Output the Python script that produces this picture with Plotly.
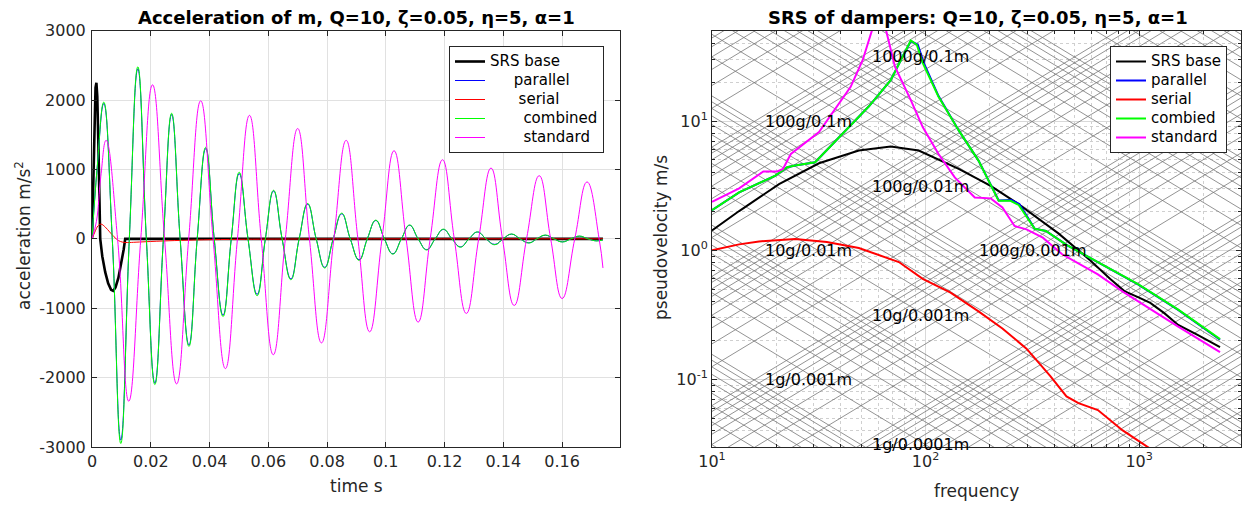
import math
import plotly.graph_objects as go

W, H = 1244, 505
FONT = "DejaVu Sans"
AXC = "#262626"

# ---------------- left panel: acceleration time histories ----------------
t_base = [0, 0.0004, 0.0008, 0.0012, 0.0015, 0.0018, 0.0022, 0.0025, 0.0028, 0.0035, 0.0045,
          0.0055, 0.0065, 0.0072, 0.0080, 0.0090, 0.0100, 0.0108, 0.0113, 0.1739]
a_base = [0, 900, 1700, 2180, 2250, 2050, 1300, 500, 0, -250, -480,
          -640, -735, -750, -700, -560, -350, -150, 0, 0]

t_comb = [0, 0.0018, 0.0040, 0.0069, 0.0098, 0.0127, 0.0156, 0.0185, 0.0214, 0.0243, 0.0271,
          0.0300, 0.0330, 0.0358, 0.0387, 0.0416, 0.0446, 0.0474, 0.0501, 0.0531, 0.0562,
          0.0590, 0.0618, 0.0647, 0.0677, 0.0705, 0.0734, 0.0763, 0.0792, 0.0821, 0.0850,
          0.0879, 0.0909, 0.0937, 0.0966, 0.0995, 0.1024, 0.1053, 0.1081, 0.1110, 0.1139,
          0.1168, 0.1196, 0.1225, 0.1254, 0.1283, 0.1312, 0.1341, 0.1371, 0.1399, 0.1428,
          0.1457, 0.1487, 0.1514, 0.1543, 0.1572, 0.1601, 0.1630, 0.1659, 0.1688, 0.1717, 0.1739]
a_comb = [0, 1050, 1970, 0, -2950, 0, 2480, 0, -2100, 0, 1810,
          0, -1550, 0, 1320, 0, -1120, 0, 960, 0, -820,
          0, 700, 0, -590, 0, 510, 0, -420, 0, 370,
          0, -310, 0, 270, 0, -220, 0, 200, 0, -160,
          0, 140, 0, -120, 0, 100, 0, -85, 0, 70,
          0, -60, 0, 55, 0, -45, 0, 40, 0, -30, -15]
a_par = [0, 1040, 1950, 0, -2900, 0, 2450, 0, -2080, 0, 1790,
         0, -1530, 0, 1300, 0, -1100, 0, 940, 0, -800,
         0, 690, 0, -575, 0, 500, 0, -410, 0, 360,
         0, -300, 0, 265, 0, -215, 0, 195, 0, -155,
         0, 135, 0, -115, 0, 98, 0, -80, 0, 68,
         0, -58, 0, 52, 0, -43, 0, 38, 0, -28, -12]

t_ser = [0, 0.0010, 0.0020, 0.0031, 0.0045, 0.0060, 0.0075, 0.0090, 0.0105, 0.0120, 0.0150,
         0.0200, 0.0280, 0.0380, 0.0500, 0.0700, 0.1000, 0.1739]
a_ser = [0, 100, 185, 212, 170, 100, 30, -25, -48, -53, -48,
         -38, -25, -14, -7, -2, 0, 0]

t_std = [0, 0.0015, 0.0030, 0.0048, 0.0087, 0.0125, 0.0166, 0.0206, 0.0247, 0.0288, 0.0329,
         0.0370, 0.0412, 0.0454, 0.0495, 0.0536, 0.0576, 0.0617, 0.0658, 0.0700, 0.0740,
         0.0781, 0.0823, 0.0865, 0.0905, 0.0945, 0.0987, 0.1028, 0.1069, 0.1110, 0.1151,
         0.1193, 0.1233, 0.1274, 0.1316, 0.1358, 0.1397, 0.1437, 0.1479, 0.1522, 0.1561,
         0.1600, 0.1643, 0.1685, 0.1726, 0.1739]
a_std = [0, 250, 900, 1420, 0, -2340, 0, 2220, 0, -2090, 0,
         1990, 0, -1870, 0, 1780, 0, -1670, 0, 1590, 0,
         -1500, 0, 1420, 0, -1340, 0, 1270, 0, -1200, 0,
         1140, 0, -1075, 0, 1020, 0, -960, 0, 910, 0,
         -860, 0, 820, 0, -420]

time_ticks = [0, 0.02, 0.04, 0.06, 0.08, 0.1, 0.12, 0.14, 0.16]
time_labels = ["0", "0.02", "0.04", "0.06", "0.08", "0.1", "0.12", "0.14", "0.16"]
acc_ticks = [-3000, -2000, -1000, 0, 1000, 2000, 3000]
acc_labels = ["-3000", "-2000", "-1000", "0", "1000", "2000", "3000"]

# ---------------- right panel: SRS (pseudovelocity) ----------------
f_base = [10, 13.4, 20.6, 31.7, 48.7, 68.7, 92.9, 143, 202, 273, 419, 591, 733, 853, 988, 1128,
          1312, 1524, 1888, 2393]
v_base = [1.42, 2.01, 3.25, 4.71, 5.91, 6.35, 5.91, 4.26, 3.15, 2.27, 1.35, 0.834, 0.598, 0.483,
          0.433, 0.391, 0.326, 0.264, 0.22, 0.178]

f_comb = [10, 13.4, 19.8, 22.5, 24.5, 30.4, 54.3, 68.7, 78.1, 85.3, 91, 97.1, 115, 143, 177,
          220, 250, 273, 324, 366, 457, 641, 988, 1524, 2393]
v_comb = [2.04, 2.80, 3.78, 4.39, 4.52, 4.80, 13.0, 20.7, 31.6, 42.0, 38.9, 28.0, 15.4, 8.46, 4.94,
          2.41, 2.41, 2.24, 1.47, 1.41, 1.10, 0.81, 0.546, 0.347, 0.205]
f_par = [10, 13.4, 19.8, 22.5, 24.5, 30.4, 54.3, 68.7, 78.1, 85.3, 92, 98, 115, 143, 177,
         220, 252, 275, 324, 366, 457, 641, 988, 1524, 2393]
v_par = [2.04, 2.80, 3.78, 4.39, 4.52, 4.80, 13.0, 20.7, 31.6, 41.5, 38.9, 28.3, 15.6, 8.46, 4.94,
         2.43, 2.45, 2.28, 1.47, 1.41, 1.10, 0.81, 0.545, 0.345, 0.203]

f_ser = [10, 13.4, 16.6, 24.5, 34.5, 48.7, 75, 97, 131, 177, 229, 297, 384, 457, 520, 641, 838,
         988, 1128, 1250]
v_ser = [1.0, 1.11, 1.17, 1.22, 1.16, 1.04, 0.81, 0.60, 0.469, 0.336, 0.248, 0.173, 0.106, 0.0738,
         0.0655, 0.058, 0.0403, 0.0336, 0.0295, 0.026]

f_std = [10, 13.4, 17.4, 20.2, 21.5, 23.4, 31.7, 38.4, 44.6, 50.8, 55.9, 60.5, 65.4, 71.9, 85.3,
         97, 115, 137, 170, 202, 229, 261, 297, 354, 436, 641, 853, 1524, 2393]
v_std = [2.37, 3.01, 4.07, 4.07, 4.25, 5.56, 8.2, 12.8, 18.4, 29.7, 50, 75, 50, 26.3, 14.5,
         8.98, 5.56, 3.66, 2.56, 2.52, 2.14, 1.54, 1.45, 1.25, 0.93, 0.65, 0.469, 0.256, 0.163]

freq_range = [10, 3000]
pv_range = [0.03, 50]

# tripartite grid values
grid_mult = [1, 2, 3, 4, 5, 6, 7, 8, 9]
acc_decades_g = [0.1, 1, 10, 100, 1000, 10000]
disp_decades_m = [1e-6, 1e-5, 1e-4, 1e-3, 1e-2, 1e-1]
G = 9.81

lab_acc_g = [1000, 100, 100, 10, 100, 10, 1, 1]
lab_disp_m = [0.1, 0.1, 0.01, 0.01, 0.001, 0.001, 0.001, 0.0001]


def lg(name):
    return '<span style="font-size:15px">' + name + "</span>"


NB = "\u00a0"
fig = go.Figure()

# ---------- left traces ----------
fig.add_trace(go.Scatter(x=t_base, y=a_base, mode="lines", name=lg("SRS base"),
                         line=dict(color="black", width=2.6), xaxis="x", yaxis="y", legend="legend"))
fig.add_trace(go.Scatter(x=t_comb, y=a_par, mode="lines", name=lg(NB * 5 + "parallel"),
                         line=dict(color="#0000ff", width=1, shape="spline", smoothing=1.3),
                         xaxis="x", yaxis="y", legend="legend"))
fig.add_trace(go.Scatter(x=t_ser, y=a_ser, mode="lines", name=lg(NB * 6 + "serial"),
                         line=dict(color="#ff0000", width=1, shape="spline"),
                         xaxis="x", yaxis="y", legend="legend"))
fig.add_trace(go.Scatter(x=t_comb, y=a_comb, mode="lines", name=lg(NB * 7 + "combined"),
                         line=dict(color="#00ff00", width=1, shape="spline", smoothing=1.3),
                         xaxis="x", yaxis="y", legend="legend"))
fig.add_trace(go.Scatter(x=t_std, y=a_std, mode="lines", name=lg(NB * 7 + "standard"),
                         line=dict(color="#ff00ff", width=1, shape="spline", smoothing=1.3),
                         xaxis="x", yaxis="y", legend="legend"))

# ---------- right: tripartite grid ----------
gx, gy = [], []
for dec in acc_decades_g:
    for m in grid_mult:
        a = m * dec * G
        gx += [freq_range[0], freq_range[1], None]
        gy += [a / (2 * math.pi * freq_range[0]), a / (2 * math.pi * freq_range[1]), None]
for dec in disp_decades_m:
    for m in grid_mult:
        d = m * dec
        gx += [freq_range[0], freq_range[1], None]
        gy += [2 * math.pi * freq_range[0] * d, 2 * math.pi * freq_range[1] * d, None]
fig.add_trace(go.Scatter(x=gx, y=gy, mode="lines", line=dict(color="#777777", width=0.8),
                         hoverinfo="skip", showlegend=False, xaxis="x2", yaxis="y2"))

for name, fx, vy, col in [("SRS base", f_base, v_base, "black"),
                          ("parallel", f_par, v_par, "#0000ff"),
                          ("serial", f_ser, v_ser, "#ff0000"),
                          ("combied", f_comb, v_comb, "#00ff00"),
                          ("standard", f_std, v_std, "#ff00ff")]:
    fig.add_trace(go.Scatter(x=fx, y=vy, mode="lines", name=lg(name),
                             line=dict(color=col, width=2), xaxis="x2", yaxis="y2",
                             legend="legend2"))

annotations = []
for ag, dm in zip(lab_acc_g, lab_disp_m):
    a = ag * G
    pv = math.sqrt(a * dm)
    f = pv / (2 * math.pi * dm)
    annotations.append(dict(x=math.log10(f), y=math.log10(pv), xref="x2", yref="y2",
                            text=f"{ag}g/{dm}m", showarrow=False, xanchor="left",
                            yanchor="middle", xshift=9,
                            font=dict(family=FONT, size=16, color="black")))


def px(x):
    return x / W


def py(y):
    return 1 - y / H


annotations += [
    dict(x=px(356), y=py(17), xref="paper", yref="paper", showarrow=False,
         text="<b>Acceleration of m, Q=10, \u03b6=0.05, \u03b7=5, \u03b1=1</b>",
         font=dict(family=FONT, size=18, color="black"), xanchor="center", yanchor="middle"),
    dict(x=px(978), y=py(17), xref="paper", yref="paper", showarrow=False,
         text="<b>SRS of dampers: Q=10, \u03b6=0.05, \u03b7=5, \u03b1=1</b>",
         font=dict(family=FONT, size=18, color="black"), xanchor="center", yanchor="middle"),
    dict(x=px(23), y=py(236), xref="paper", yref="paper", showarrow=False, textangle=-90,
         text="acceleration m/s<sup>2</sup>",
         font=dict(family=FONT, size=17, color=AXC), xanchor="center", yanchor="middle"),
    dict(x=px(661), y=py(238), xref="paper", yref="paper", showarrow=False, textangle=-90,
         text="pseudovelocity m/s",
         font=dict(family=FONT, size=17, color=AXC), xanchor="center", yanchor="middle"),
    dict(x=px(356), y=py(486), xref="paper", yref="paper", showarrow=False,
         text="time s", font=dict(family=FONT, size=17, color=AXC),
         xanchor="center", yanchor="middle"),
    dict(x=px(976.5), y=py(491), xref="paper", yref="paper", showarrow=False,
         text="frequency", font=dict(family=FONT, size=17, color=AXC),
         xanchor="center", yanchor="middle"),
]

tickfont = dict(family=FONT, size=16, color=AXC)
common = dict(showline=True, linecolor=AXC, linewidth=1, mirror="ticks", ticks="inside",
              ticklen=5, tickcolor=AXC, tickfont=tickfont, zeroline=False, automargin=False)

y_dom = [py(447), py(30.7)]

fig.update_layout(
    width=W, height=H, template="none",
    paper_bgcolor="white", plot_bgcolor="white",
    margin=dict(l=0, r=0, t=0, b=0),
    font=dict(family=FONT, color=AXC),
    xaxis=dict(domain=[px(92), px(620)], range=[0, 0.1797], tickmode="array",
               tickvals=time_ticks, ticktext=time_labels, showgrid=True, gridcolor="#e1e1e1",
               anchor="y", **common),
    yaxis=dict(domain=y_dom, range=[-3000, 3000], tickmode="array", tickvals=acc_ticks,
               ticktext=acc_labels, showgrid=True, gridcolor="#e1e1e1", anchor="x",
               ticklabelstandoff=2, **common),
    xaxis2=dict(domain=[px(712), px(1241)], type="log",
                range=[math.log10(freq_range[0]), math.log10(freq_range[1])],
                tickmode="array", tickvals=[10, 100, 1000],
                ticktext=["10<sup>1</sup>", "10<sup>2</sup>", "10<sup>3</sup>"],
                showgrid=True, gridcolor="#d9d9d9",
                minor=dict(tickmode="array",
                           tickvals=[20, 30, 40, 50, 60, 70, 80, 90, 200, 300, 400, 500, 600, 700,
                                     800, 900, 2000, 3000],
                           ticks="inside", ticklen=3, tickcolor=AXC, showgrid=True,
                           gridcolor="#cfcfcf", griddash="dot", gridwidth=1),
                anchor="y2", **common),
    yaxis2=dict(domain=y_dom, type="log",
                range=[math.log10(pv_range[0]), math.log10(pv_range[1])],
                tickmode="array", tickvals=[0.1, 1, 10],
                ticktext=["10<sup>-1</sup>", "10<sup>0</sup>", "10<sup>1</sup>"],
                showgrid=True, gridcolor="#d9d9d9",
                minor=dict(tickmode="array",
                           tickvals=[0.04, 0.05, 0.06, 0.07, 0.08, 0.09, 0.2, 0.3, 0.4, 0.5, 0.6,
                                     0.7, 0.8, 0.9, 2, 3, 4, 5, 6, 7, 8, 9, 20, 30, 40],
                           ticks="inside", ticklen=3, tickcolor=AXC, showgrid=True,
                           gridcolor="#cfcfcf", griddash="dot", gridwidth=1),
                anchor="x2", **common),
    legend=dict(x=px(604), xanchor="right", y=py(46), yanchor="top", bgcolor="white",
                bordercolor=AXC, borderwidth=1, font=dict(family=FONT, size=12, color="black"),
                tracegroupgap=0),
    legend2=dict(x=px(1227), xanchor="right", y=py(46), yanchor="top", bgcolor="white",
                 bordercolor=AXC, borderwidth=1, font=dict(family=FONT, size=12, color="black"),
                 tracegroupgap=0),
    annotations=annotations,
    showlegend=True,
)

fig.write_html("out.html")
